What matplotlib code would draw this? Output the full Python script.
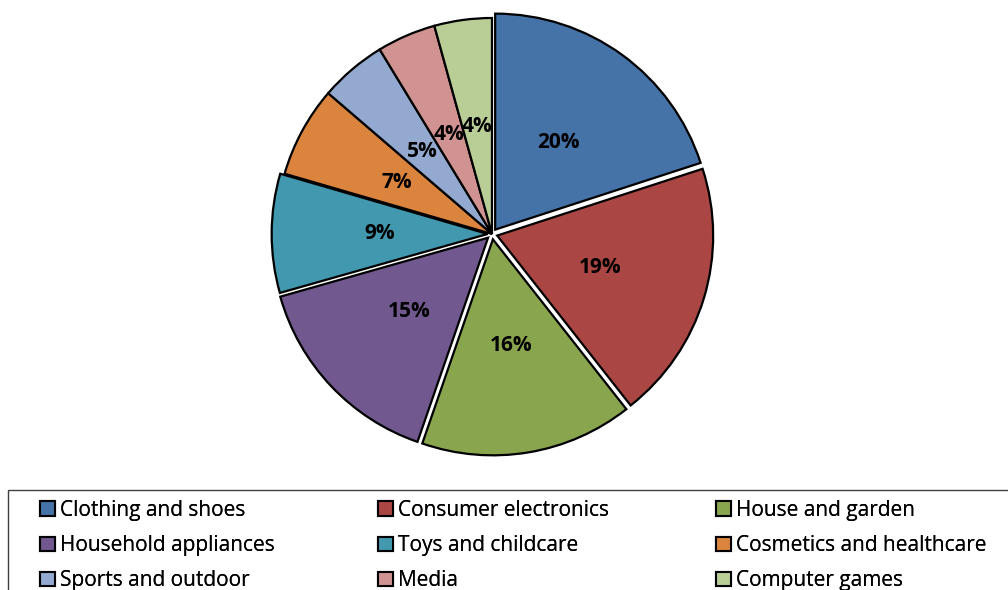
import matplotlib
matplotlib.use('Agg')
import matplotlib.pyplot as plt
from matplotlib.patches import Patch, Rectangle

# dados
categorias = ['Clothing and shoes', 'Consumer electronics', 'House and garden',
              'Household appliances', 'Toys and childcare', 'Cosmetics and healthcare',
              'Sports and outdoor', 'Media', 'Computer games']
valores = [20.0, 19.4, 15.9, 15.3, 8.9, 6.8, 5.0, 4.4, 4.3]
cores = ['#4572A7', '#AA4643', '#89A54E', '#71588F', '#4198AF',
         '#DB843D', '#93A9CF', '#D19392', '#B9CD96']
explode = [0.025, 0.025, 0.025, 0.025, 0.02, 0, 0, 0, 0]

plt.rcParams['font.family'] = ['Open Sans', 'DejaVu Sans']

W, H = 1008, 590
fig = plt.figure(figsize=(W / 100, H / 100), dpi=100)

# eixo do pie em pixels: centro (492, 234), raio 216
cx, cy, r, meio = 492, 234, 216, 240
ax = fig.add_axes([(cx - meio) / W, (H - cy - meio) / H, 2 * meio / W, 2 * meio / H])
wedges, textos, autotextos = ax.pie(
    valores, colors=cores, explode=explode, startangle=90, counterclock=False,
    autopct=lambda p: '%.0f%%' % p, pctdistance=0.5, radius=1.0,
    wedgeprops=dict(edgecolor='black', linewidth=1.6),
    textprops=dict(fontsize=15, fontweight='bold', color='black'))
lim = meio / r
ax.set_xlim(-lim, lim)
ax.set_ylim(-lim, lim)
ax.set_aspect('auto')
ax.axis('off')

# caixa da legenda
fig.patches.append(Rectangle((8 / W, -0.05), (W - 8) / W + 0.01, (H - 490) / H + 0.05,
                             transform=fig.transFigure, facecolor='white',
                             edgecolor='#404040', linewidth=1.0, zorder=0))

# legenda em 3 colunas, preenchida por linha
x_colunas = [40, 378, 716]
for j, x0 in enumerate(x_colunas):
    idx = [j, j + 3, j + 6]
    handles = [Patch(facecolor=cores[i], edgecolor='black', linewidth=1.5) for i in idx]
    leg = fig.legend(handles, [categorias[i] for i in idx], loc='upper left',
                     bbox_to_anchor=(x0 / W, 1 - 500 / H), frameon=False,
                     fontsize=15, handlelength=0.7, handleheight=0.7,
                     handletextpad=0.25, labelspacing=0.68,
                     borderaxespad=0, borderpad=0)
    fig.add_artist(leg)

fig.savefig('out.png', dpi=100)
